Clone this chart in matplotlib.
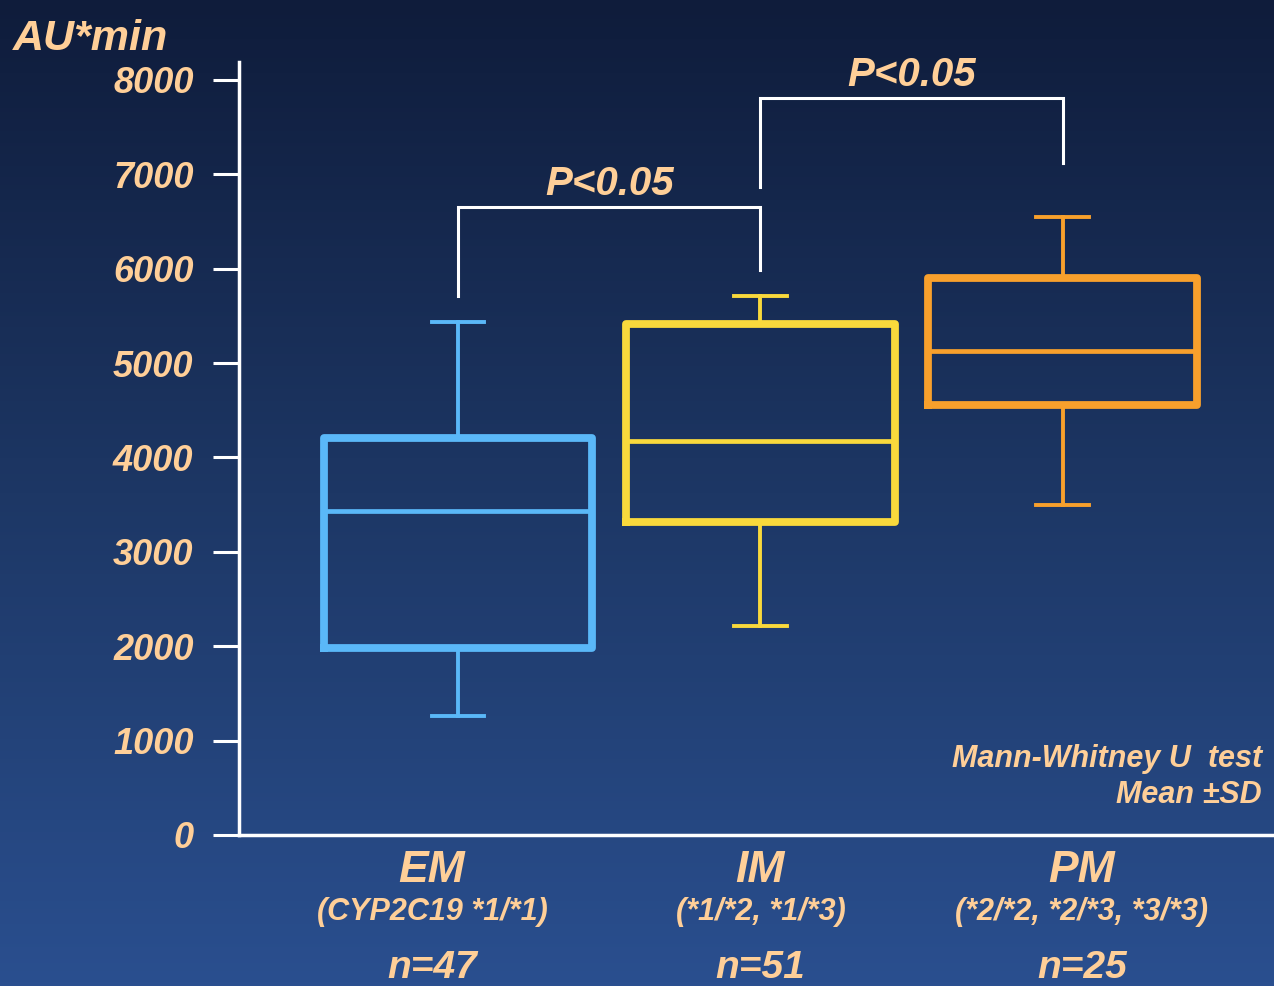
import matplotlib
matplotlib.use("Agg")
import matplotlib.pyplot as plt
import numpy as np
from matplotlib.colors import LinearSegmentedColormap

# values (AU*min)
groups = ["EM", "IM", "PM"]
genotypes = ["(CYP2C19 *1/*1)", "(*1/*2, *1/*3)", "(*2/*2, *2/*3, *3/*3)"]
n_labels = ["n=47", "n=51", "n=25"]
whis_lo = [1260, 2215, 3500]
q1 = [1980, 3320, 4555]
median = [3430, 4175, 5130]
q3 = [4205, 5415, 5900]
whis_hi = [5435, 5710, 6550]
box_colors = ["#5ab8f8", "#f9d93c", "#f8a02c"]

# significance brackets: (left group, right group, top, left leg end, right leg end)
brackets = [(1, 2, 6655, 5710, 5990), (2, 3, 7810, 6865, 7120)]
bracket_text = ["P<0.05", "P<0.05"]

TXT = "#ffcf98"
W, H = 1274, 986

plt.rcParams["font.family"] = ["Liberation Sans Narrow", "Liberation Sans", "DejaVu Sans"]
plt.rcParams["font.weight"] = "bold"
plt.rcParams["font.style"] = "italic"

fig = plt.figure(figsize=(W / 100, H / 100), dpi=100)

# background gradient, dark navy at top to lighter blue at bottom
bg = fig.add_axes([0, 0, 1, 1])
cmap = LinearSegmentedColormap.from_list("bg", ["#0f1c3b", "#1d3765", "#2a4f8f"])
grad = np.linspace(0, 1, 256).reshape(-1, 1)
bg.imshow(grad, aspect="auto", cmap=cmap, extent=[0, 1, 0, 1])
bg.axis("off")


def py(px):
    # pixel row -> data y
    return (835 - px) * 8000 / 755


ax = fig.add_axes([239 / W, (H - 835) / H, (W - 239) / W, (835 - 62) / H])
ax.patch.set_alpha(0)

stats = []
for i in range(3):
    stats.append(dict(med=median[i], q1=q1[i], q3=q3[i],
                      whislo=whis_lo[i], whishi=whis_hi[i], label=groups[i]))

bp = ax.bxp(stats, positions=[1, 2, 3], widths=0.889, capwidths=0.175,
            showfliers=False,
            boxprops=dict(linewidth=5.6),
            whiskerprops=dict(linewidth=2.8),
            capprops=dict(linewidth=2.8),
            medianprops=dict(linewidth=3.4))
for i, c in enumerate(box_colors):
    bp["boxes"][i].set_color(c)
    bp["medians"][i].set_color(c)
    for k in (2 * i, 2 * i + 1):
        bp["whiskers"][k].set_color(c)
        bp["caps"][k].set_color(c)

for (a, b, top, la, lb), t in zip(brackets, bracket_text):
    ax.plot([a, a, b, b], [la, top, top, lb], color="white", lw=2.2,
            solid_joinstyle="miter", clip_on=False)
    ax.text((a + b) / 2, top + py(195) - py(207), t, ha="center", va="baseline",
            color=TXT, fontsize=29)

ax.set_xlim(0.276, 3.698)
ax.set_ylim(0, py(62))
ax.set_yticks(np.arange(0, 8001, 1000))
ax.set_xticks([])
ax.tick_params(axis="y", length=18.7, width=2.2, color="white", pad=14,
               labelsize=26, labelcolor=TXT)
for s in ("top", "right"):
    ax.spines[s].set_visible(False)
for s in ("left", "bottom"):
    ax.spines[s].set_color("white")
    ax.spines[s].set_linewidth(2.5)

# group labels under the axis
label_x = [0.914, 2.0, 3.063]
for i in range(3):
    ax.text(label_x[i], py(882), groups[i], ha="center", va="baseline",
            color=TXT, fontsize=32, clip_on=False)
    ax.text(label_x[i], py(920), genotypes[i], ha="center", va="baseline",
            color=TXT, fontsize=22, clip_on=False)
    ax.text(label_x[i], py(978), n_labels[i], ha="center", va="baseline",
            color=TXT, fontsize=28, clip_on=False)

fig.text(13 / W, 1 - 50 / H, "AU*min", ha="left", va="baseline", color=TXT, fontsize=31)
fig.text(1262 / W, 1 - 767 / H, "Mann-Whitney U  test", ha="right", va="baseline",
         color=TXT, fontsize=22)
fig.text(1262 / W, 1 - 803 / H, "Mean \u00b1SD", ha="right", va="baseline",
         color=TXT, fontsize=22)

fig.savefig("out.png", dpi=100)
